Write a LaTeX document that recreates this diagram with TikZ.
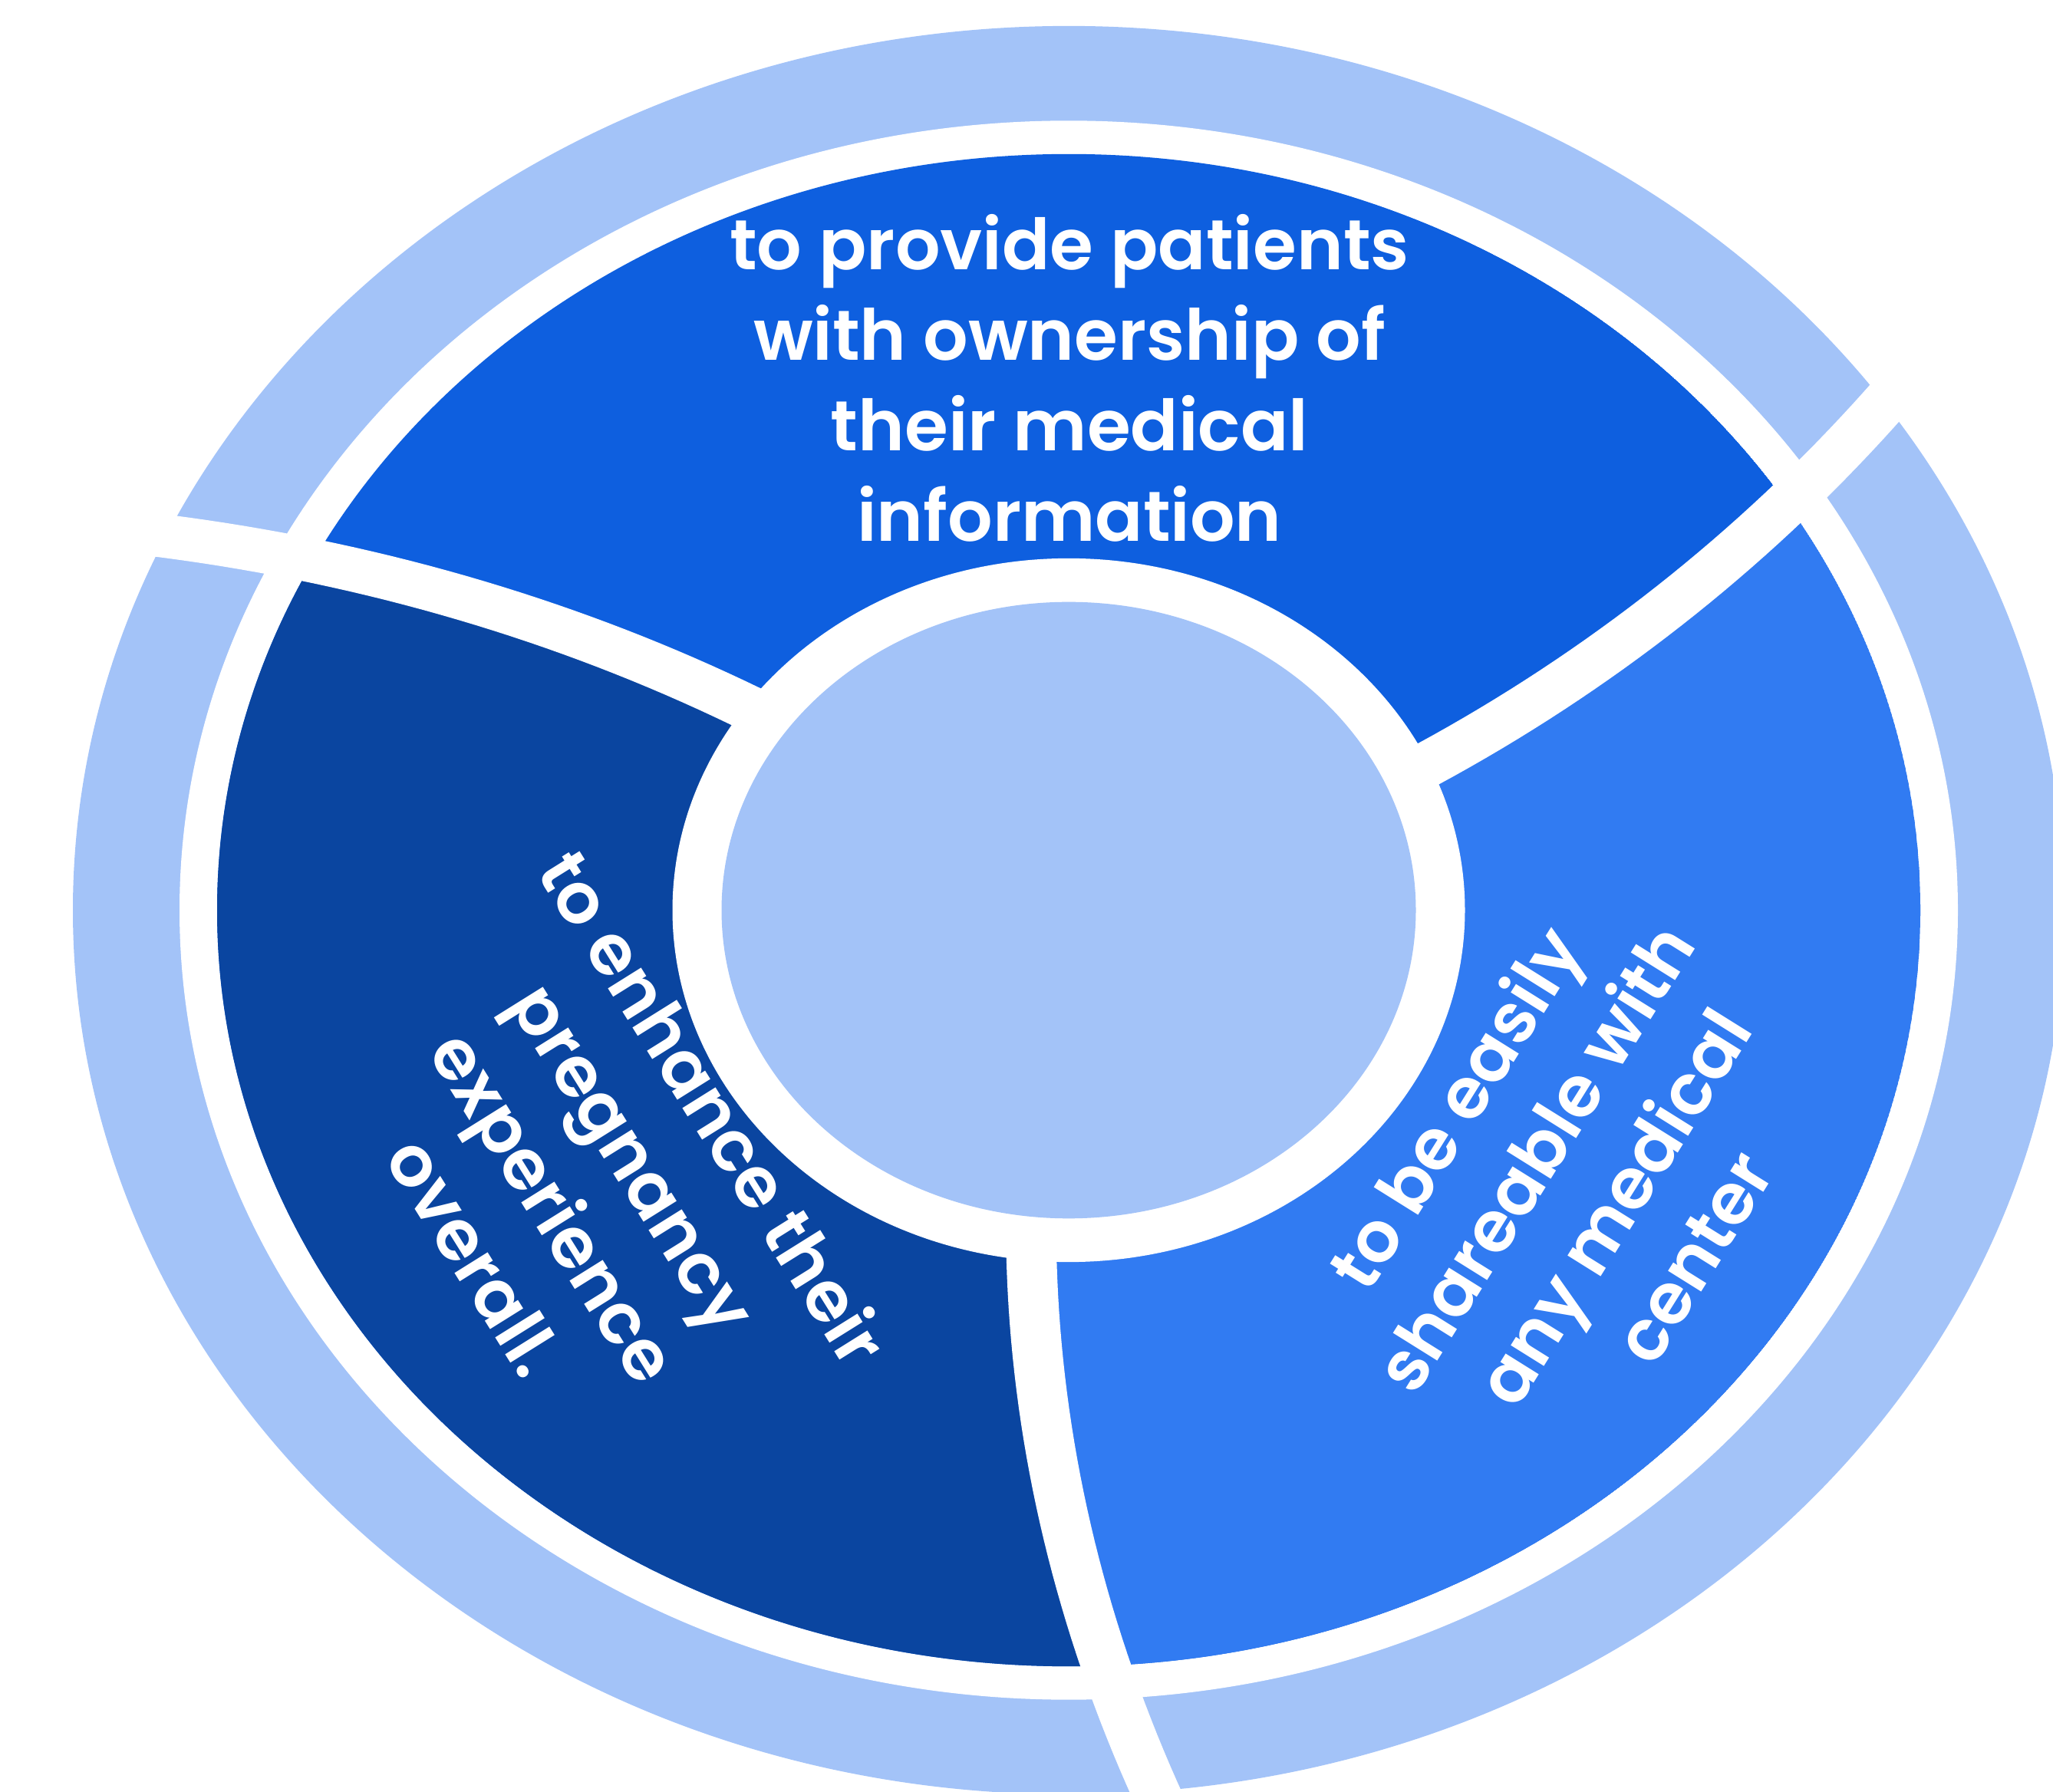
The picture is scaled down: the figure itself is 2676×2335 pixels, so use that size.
\documentclass[tikz,border=0pt]{standalone}
\usepackage{fontspec}
\setmainfont{Poppins}[BoldFont={Poppins SemiBold}]
\definecolor{ringc}{HTML}{A3C3F8}
\definecolor{topc}{HTML}{0E5FDF}
\definecolor{leftc}{HTML}{0A45A0}
\definecolor{rightc}{HTML}{317BF2}
\begin{document}
\begin{tikzpicture}[x=1pt,y=1pt,
  lbl/.style={text=white, font=\fontsize{92}{118}\selectfont\bfseries, align=center, inner sep=0pt},
  rlbl/.style={lbl, font=\fontsize{92}{122}\selectfont\bfseries}]
\useasboundingbox (0,0) rectangle (2676,2335);
\clip (0,0) rectangle (2676,2335);
\begin{scope}[shift={(1393,1148.5)}, yscale=0.888]
  % outer ring
  \fill[ringc] (0,0) circle (1298);
  \fill[white] (0,0) circle (1159);
  % segments
  \begin{scope}
    \clip (0,0) circle (1110);
    \fill[topc] (0,0) circle (1110);
    \fill[leftc] (0,0) -- plot[domain=300:1400,samples=30] ({144.6+0.01327*(\x-516)}:{\x})
       arc[start angle=156.33, end angle=276.33, radius=1400]
       -- plot[domain=1400:300,samples=30] ({264.6+0.01327*(\x-516)}:{\x}) -- cycle;
    \fill[rightc] (0,0) -- plot[domain=300:1400,samples=30] ({264.6+0.01327*(\x-516)}:{\x})
       arc[start angle=276.33, end angle=396.33, radius=1400]
       -- plot[domain=1400:300,samples=30] ({24.6+0.01327*(\x-516)}:{\x}) -- cycle;
  \end{scope}
  % curved white gaps
  \foreach \t in {24.6,144.6,264.6}{
    \fill[white] plot[domain=420:1360,samples=40] ({\t+0.01327*(\x-516)+33/\x*57.2958}:{\x})
      -- plot[domain=1360:420,samples=40] ({\t+0.01327*(\x-516)-33/\x*57.2958}:{\x}) -- cycle;
  }
  % centre
  \fill[white] (0,0) circle (516.5);
  \fill[ringc] (0,0) circle (452.5);
\end{scope}
\node[lbl] (toptext) at (1394,1842) {to provide patients\\with ownership of\\their medical\\information};
\node[rlbl, rotate=-58] (lefttext) at (776,795) {to enhance their\\pregnancy\\experience\\overall.};
\node[rlbl, rotate=58] (righttext) at (2050,795) {to be easily\\shareable with\\any medical\\center};
\end{tikzpicture}
\end{document}
